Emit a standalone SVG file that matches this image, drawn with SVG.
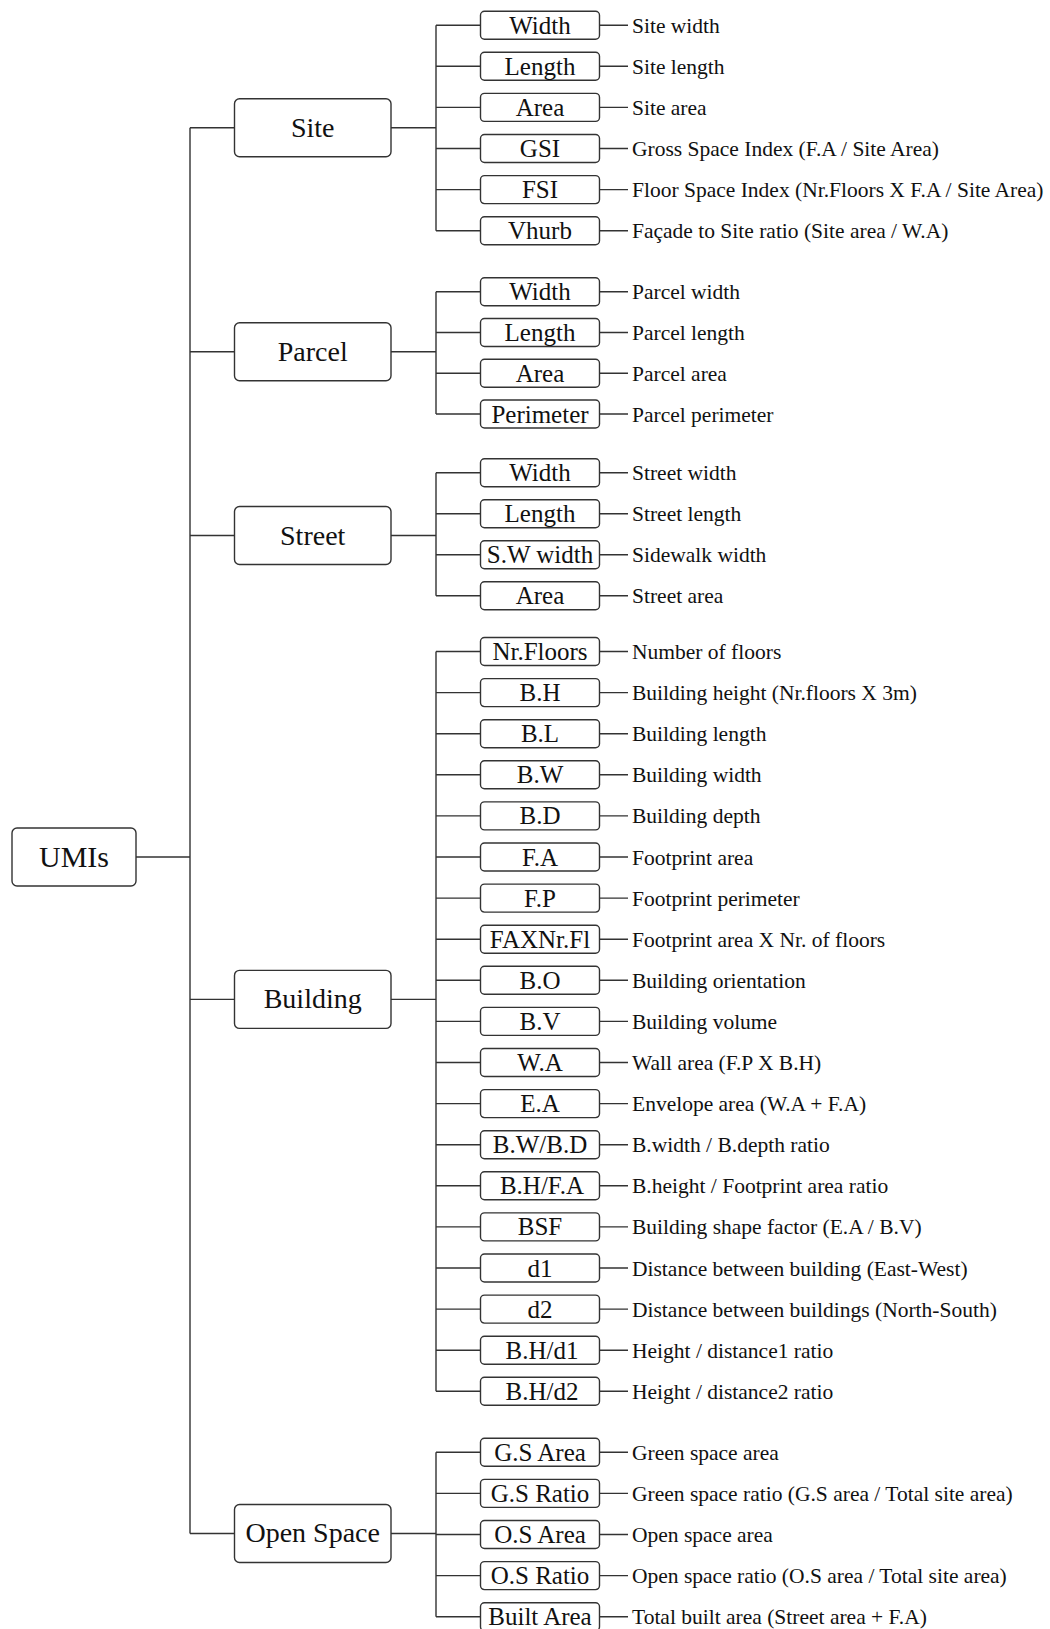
<svg xmlns="http://www.w3.org/2000/svg" width="1050" height="1629" viewBox="0 0 1050 1629">
<style>
.bg{fill:#fff}
.root rect,.par rect{fill:#fff;stroke:#333;stroke-width:1.4}
.leaf rect{fill:#fff;stroke:#333;stroke-width:1.4}
.conn path{fill:none;stroke:#333;stroke-width:1.4}
text{font-family:"Liberation Serif","Times New Roman",serif;fill:#111}
.rt{font-size:30px;text-anchor:middle}
.pt{font-size:28px;text-anchor:middle}
.lt{font-size:25px;text-anchor:middle}
.dt{font-size:21.5px}
</style>
<rect class="bg" x="0" y="0" width="1050" height="1629"/>
<g id="connectors" class="conn">
<path d="M136,857H190M190,127.7V1533.5"/>
<path d="M190,127.7H234.5M190,351.8H234.5M190,535.5H234.5M190,999.4H234.5M190,1533.5H234.5"/>
<path d="M391,127.7H436M436,25.2V230.7M436,25.2H480.5M436,66.3H480.5M436,107.4H480.5M436,148.5H480.5M436,189.6H480.5M436,230.7H480.5"/>
<path d="M391,351.8H436M436,291.8V414M436,291.8H480.5M436,332.5H480.5M436,373.2H480.5M436,414H480.5"/>
<path d="M391,535.5H436M436,472.8V595.8M436,472.8H480.5M436,513.8H480.5M436,554.8H480.5M436,595.8H480.5"/>
<path d="M391,999.4H436M436,651.5V1391.3M436,651.5H480.5M436,692.6H480.5M436,733.7H480.5M436,774.8H480.5M436,815.9H480.5M436,857H480.5M436,898.1H480.5M436,939.2H480.5M436,980.3H480.5M436,1021.4H480.5M436,1062.5H480.5M436,1103.6H480.5M436,1144.7H480.5M436,1185.8H480.5M436,1226.9H480.5M436,1268H480.5M436,1309.1H480.5M436,1350.2H480.5M436,1391.3H480.5"/>
<path d="M391,1533.5H436M436,1452.3V1616.7M436,1452.3H480.5M436,1493.4H480.5M436,1534.5H480.5M436,1575.6H480.5M436,1616.7H480.5"/>
<path d="M599.5,25.2H628M599.5,66.3H628M599.5,107.4H628M599.5,148.5H628M599.5,189.6H628M599.5,230.7H628M599.5,291.8H628M599.5,332.5H628M599.5,373.2H628M599.5,414H628M599.5,472.8H628M599.5,513.8H628M599.5,554.8H628M599.5,595.8H628M599.5,651.5H628M599.5,692.6H628M599.5,733.7H628M599.5,774.8H628M599.5,815.9H628M599.5,857H628M599.5,898.1H628M599.5,939.2H628M599.5,980.3H628M599.5,1021.4H628M599.5,1062.5H628M599.5,1103.6H628M599.5,1144.7H628M599.5,1185.8H628M599.5,1226.9H628M599.5,1268H628M599.5,1309.1H628M599.5,1350.2H628M599.5,1391.3H628M599.5,1452.3H628M599.5,1493.4H628M599.5,1534.5H628M599.5,1575.6H628M599.5,1616.7H628"/>
</g>
<g id="umis" class="root"><rect x="12" y="828" width="124" height="58" rx="5"/><text class="rt" x="74" y="867">UMIs</text></g>
<g id="site" class="par"><rect x="234.5" y="98.7" width="156.5" height="58" rx="5"/><text class="pt" x="312.7" y="137">Site</text></g>
<g id="parcel" class="par"><rect x="234.5" y="322.8" width="156.5" height="58" rx="5"/><text class="pt" x="312.7" y="361">Parcel</text></g>
<g id="street" class="par"><rect x="234.5" y="506.5" width="156.5" height="58" rx="5"/><text class="pt" x="312.7" y="544.5">Street</text></g>
<g id="building" class="par"><rect x="234.5" y="970.4" width="156.5" height="58" rx="5"/><text class="pt" x="312.7" y="1007.5">Building</text></g>
<g id="openspace" class="par"><rect x="234.5" y="1504.5" width="156.5" height="58" rx="5"/><text class="pt" x="312.7" y="1542">Open Space</text></g>

<g id="site-width" class="leaf"><rect x="480.5" y="11.2" width="119" height="28" rx="4"/><text class="lt" x="540" y="33.7">Width</text><text class="dt" x="632" y="32.7">Site width</text></g>
<g id="site-length" class="leaf"><rect x="480.5" y="52.3" width="119" height="28" rx="4"/><text class="lt" x="540" y="74.8">Length</text><text class="dt" x="632" y="73.8">Site length</text></g>
<g id="site-area" class="leaf"><rect x="480.5" y="93.4" width="119" height="28" rx="4"/><text class="lt" x="540" y="115.9">Area</text><text class="dt" x="632" y="114.9">Site area</text></g>
<g id="site-gsi" class="leaf"><rect x="480.5" y="134.5" width="119" height="28" rx="4"/><text class="lt" x="540" y="157">GSI</text><text class="dt" x="632" y="156">Gross Space Index (F.A / Site Area)</text></g>
<g id="site-fsi" class="leaf"><rect x="480.5" y="175.6" width="119" height="28" rx="4"/><text class="lt" x="540" y="198.1">FSI</text><text class="dt" x="632" y="197.1">Floor Space Index (Nr.Floors X F.A / Site Area)</text></g>
<g id="site-vhurb" class="leaf"><rect x="480.5" y="216.7" width="119" height="28" rx="4"/><text class="lt" x="540" y="239.2">Vhurb</text><text class="dt" x="632" y="238.2">Façade to Site ratio (Site area / W.A)</text></g>

<g id="parcel-width" class="leaf"><rect x="480.5" y="277.8" width="119" height="28" rx="4"/><text class="lt" x="540" y="300.3">Width</text><text class="dt" x="632" y="299.3">Parcel width</text></g>
<g id="parcel-length" class="leaf"><rect x="480.5" y="318.5" width="119" height="28" rx="4"/><text class="lt" x="540" y="341">Length</text><text class="dt" x="632" y="340">Parcel length</text></g>
<g id="parcel-area" class="leaf"><rect x="480.5" y="359.2" width="119" height="28" rx="4"/><text class="lt" x="540" y="381.7">Area</text><text class="dt" x="632" y="380.7">Parcel area</text></g>
<g id="parcel-perimeter" class="leaf"><rect x="480.5" y="400" width="119" height="28" rx="4"/><text class="lt" x="540" y="422.5">Perimeter</text><text class="dt" x="632" y="421.5">Parcel perimeter</text></g>

<g id="street-width" class="leaf"><rect x="480.5" y="458.8" width="119" height="28" rx="4"/><text class="lt" x="540" y="481.3">Width</text><text class="dt" x="632" y="480.3">Street width</text></g>
<g id="street-length" class="leaf"><rect x="480.5" y="499.8" width="119" height="28" rx="4"/><text class="lt" x="540" y="522.3">Length</text><text class="dt" x="632" y="521.3">Street length</text></g>
<g id="street-swwidth" class="leaf"><rect x="480.5" y="540.8" width="119" height="28" rx="4"/><text class="lt" x="540" y="563.3">S.W width</text><text class="dt" x="632" y="562.3">Sidewalk width</text></g>
<g id="street-area" class="leaf"><rect x="480.5" y="581.8" width="119" height="28" rx="4"/><text class="lt" x="540" y="604.3">Area</text><text class="dt" x="632" y="603.3">Street area</text></g>

<g id="b-nrfloors" class="leaf"><rect x="480.5" y="637.5" width="119" height="28" rx="4"/><text class="lt" x="540" y="660">Nr.Floors</text><text class="dt" x="632" y="659">Number of floors</text></g>
<g id="b-bh" class="leaf"><rect x="480.5" y="678.6" width="119" height="28" rx="4"/><text class="lt" x="540" y="701.1">B.H</text><text class="dt" x="632" y="700.1">Building height (Nr.floors X 3m)</text></g>
<g id="b-bl" class="leaf"><rect x="480.5" y="719.7" width="119" height="28" rx="4"/><text class="lt" x="540" y="742.2">B.L</text><text class="dt" x="632" y="741.2">Building length</text></g>
<g id="b-bw" class="leaf"><rect x="480.5" y="760.8" width="119" height="28" rx="4"/><text class="lt" x="540" y="783.3">B.W</text><text class="dt" x="632" y="782.3">Building width</text></g>
<g id="b-bd" class="leaf"><rect x="480.5" y="801.9" width="119" height="28" rx="4"/><text class="lt" x="540" y="824.4">B.D</text><text class="dt" x="632" y="823.4">Building depth</text></g>
<g id="b-fa" class="leaf"><rect x="480.5" y="843" width="119" height="28" rx="4"/><text class="lt" x="540" y="865.5">F.A</text><text class="dt" x="632" y="864.5">Footprint area</text></g>
<g id="b-fp" class="leaf"><rect x="480.5" y="884.1" width="119" height="28" rx="4"/><text class="lt" x="540" y="906.6">F.P</text><text class="dt" x="632" y="905.6">Footprint perimeter</text></g>
<g id="b-faxnrfl" class="leaf"><rect x="480.5" y="925.2" width="119" height="28" rx="4"/><text class="lt" x="540" y="947.7">FAXNr.Fl</text><text class="dt" x="632" y="946.7">Footprint area X Nr. of floors</text></g>
<g id="b-bo" class="leaf"><rect x="480.5" y="966.3" width="119" height="28" rx="4"/><text class="lt" x="540" y="988.8">B.O</text><text class="dt" x="632" y="987.8">Building orientation</text></g>
<g id="b-bv" class="leaf"><rect x="480.5" y="1007.4" width="119" height="28" rx="4"/><text class="lt" x="540" y="1029.9">B.V</text><text class="dt" x="632" y="1028.9">Building volume</text></g>
<g id="b-wa" class="leaf"><rect x="480.5" y="1048.5" width="119" height="28" rx="4"/><text class="lt" x="540" y="1071">W.A</text><text class="dt" x="632" y="1070">Wall area (F.P X B.H)</text></g>
<g id="b-ea" class="leaf"><rect x="480.5" y="1089.6" width="119" height="28" rx="4"/><text class="lt" x="540" y="1112.1">E.A</text><text class="dt" x="632" y="1111.1">Envelope area (W.A + F.A)</text></g>
<g id="b-bwbd" class="leaf"><rect x="480.5" y="1130.7" width="119" height="28" rx="4"/><text class="lt" x="540" y="1153.2">B.W/B.D</text><text class="dt" x="632" y="1152.2">B.width / B.depth ratio</text></g>
<g id="b-bhfa" class="leaf"><rect x="480.5" y="1171.8" width="119" height="28" rx="4"/><text class="lt" x="542" y="1194.3">B.H/F.A</text><text class="dt" x="632" y="1193.3">B.height / Footprint area ratio</text></g>
<g id="b-bsf" class="leaf"><rect x="480.5" y="1212.9" width="119" height="28" rx="4"/><text class="lt" x="540" y="1235.4">BSF</text><text class="dt" x="632" y="1234.4">Building shape factor (E.A / B.V)</text></g>
<g id="b-d1" class="leaf"><rect x="480.5" y="1254" width="119" height="28" rx="4"/><text class="lt" x="540" y="1276.5">d1</text><text class="dt" x="632" y="1275.5">Distance between building (East-West)</text></g>
<g id="b-d2" class="leaf"><rect x="480.5" y="1295.1" width="119" height="28" rx="4"/><text class="lt" x="540" y="1317.6">d2</text><text class="dt" x="632" y="1316.6">Distance between buildings (North-South)</text></g>
<g id="b-bhd1" class="leaf"><rect x="480.5" y="1336.2" width="119" height="28" rx="4"/><text class="lt" x="542" y="1358.7">B.H/d1</text><text class="dt" x="632" y="1357.7">Height / distance1 ratio</text></g>
<g id="b-bhd2" class="leaf"><rect x="480.5" y="1377.3" width="119" height="28" rx="4"/><text class="lt" x="542" y="1399.8">B.H/d2</text><text class="dt" x="632" y="1398.8">Height / distance2 ratio</text></g>

<g id="o-gsarea" class="leaf"><rect x="480.5" y="1438.3" width="119" height="28" rx="4"/><text class="lt" x="540" y="1460.8">G.S Area</text><text class="dt" x="632" y="1459.8">Green space area</text></g>
<g id="o-gsratio" class="leaf"><rect x="480.5" y="1479.4" width="119" height="28" rx="4"/><text class="lt" x="540" y="1501.9">G.S Ratio</text><text class="dt" x="632" y="1500.9">Green space ratio (G.S area / Total site area)</text></g>
<g id="o-osarea" class="leaf"><rect x="480.5" y="1520.5" width="119" height="28" rx="4"/><text class="lt" x="540" y="1543">O.S Area</text><text class="dt" x="632" y="1542">Open space area</text></g>
<g id="o-osratio" class="leaf"><rect x="480.5" y="1561.6" width="119" height="28" rx="4"/><text class="lt" x="540" y="1584.1">O.S Ratio</text><text class="dt" x="632" y="1583.1">Open space ratio (O.S area / Total site area)</text></g>
<g id="o-builtarea" class="leaf"><rect x="480.5" y="1602.7" width="119" height="28" rx="4"/><text class="lt" x="540" y="1625.2">Built Area</text><text class="dt" x="632" y="1624.2">Total built area (Street area + F.A)</text></g>
</svg>
